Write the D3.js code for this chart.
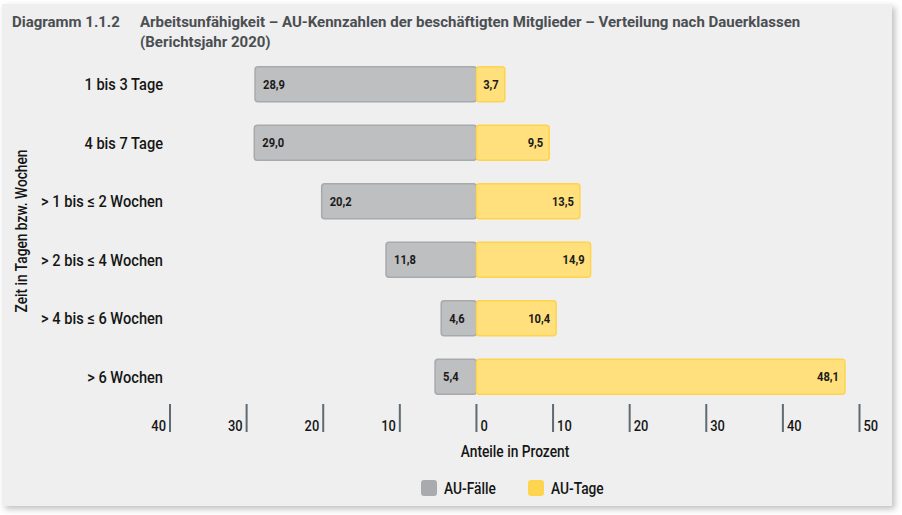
<!DOCTYPE html>
<html>
<head>
<meta charset="utf-8">
<script src="https://cdn.jsdelivr.net/npm/d3@7"></script>
<style>
  body { margin: 0; background: #ffffff; }
  text { font-family: "Roboto", "Liberation Sans", sans-serif; }
</style>
</head>
<body>
<div id="plot"></div>
<script>
// Data
const categories = ["1 bis 3 Tage", "4 bis 7 Tage", "> 1 bis ≤ 2 Wochen", "> 2 bis ≤ 4 Wochen", "> 4 bis ≤ 6 Wochen", "> 6 Wochen"];
const faelle = [28.9, 29.0, 20.2, 11.8, 4.6, 5.4];
const tage = [3.7, 9.5, 13.5, 14.9, 10.4, 48.1];
const leftTicks = [40, 30, 20, 10];
const rightTicks = [0, 10, 20, 30, 40, 50];
const seriesNames = ["AU-Fälle", "AU-Tage"];

const width = 902;
const height = 515;

const svg = d3.select("#plot")
  .append("svg")
  .attr("width", width)
  .attr("height", height);

// shadow + panel
const defs = svg.append("defs");
const f = defs.append("filter").attr("id", "shadow").attr("x", "-5%").attr("y", "-5%").attr("width", "110%").attr("height", "110%");
f.append("feDropShadow").attr("dx", 3).attr("dy", 3).attr("stdDeviation", 3).attr("flood-color", "#000").attr("flood-opacity", 0.25);

svg.append("rect")
  .attr("x", 2).attr("y", 4)
  .attr("width", 890).attr("height", 502)
  .attr("fill", "#eeefee")
  .attr("filter", "url(#shadow)");

// condensed look: squeeze text horizontally
const sx = 0.86;

// title
svg.append("text")
  .attr("x", 12).attr("y", 27)
  .attr("fill", "#4b4e52")
  .style("font-size", "15px").style("font-weight", "bold")
  .text("Diagramm 1.1.2");
const title = svg.append("text")
  .attr("x", 140).attr("y", 27)
  .attr("fill", "#4b4e52")
  .style("font-size", "15px").style("font-weight", "bold");
title.append("tspan").attr("x", 140).text("Arbeitsunfähigkeit – AU-Kennzahlen der beschäftigten Mitglieder – Verteilung nach Dauerklassen");
title.append("tspan").attr("x", 140).attr("dy", 20).text("(Berichtsjahr 2020)");

// scales
const x = d3.scaleLinear().domain([-40, 50]).range([170, 859.5]);
const y = d3.scaleBand().domain(categories).range([55, 406]).paddingInner(0.4).paddingOuter(0.2);

const rows = categories.map((c, i) => ({ cat: c, f: faelle[i], t: tage[i] }));

const fmt = v => v.toFixed(1).replace(".", ",");

// bars
const g = svg.append("g");
g.selectAll("rect.faelle")
  .data(rows).enter().append("rect")
  .attr("class", "faelle")
  .attr("x", d => x(-d.f))
  .attr("y", d => y(d.cat))
  .attr("width", d => x(0) - x(-d.f))
  .attr("height", y.bandwidth())
  .attr("rx", 3)
  .attr("fill", "#bebfc1")
  .attr("stroke", "#a8a9ab")
  .attr("stroke-width", 1.5);

g.selectAll("rect.tage")
  .data(rows).enter().append("rect")
  .attr("class", "tage")
  .attr("x", x(0))
  .attr("y", d => y(d.cat))
  .attr("width", d => x(d.t) - x(0))
  .attr("height", y.bandwidth())
  .attr("rx", 3)
  .attr("fill", "#ffe07c")
  .attr("stroke", "#fdd44c")
  .attr("stroke-width", 1.5);

// value labels
g.selectAll("text.fl")
  .data(rows).enter().append("text")
  .attr("transform", d => `translate(${x(-d.f) + 8}, ${y(d.cat) + y.bandwidth() / 2 + 4.5}) scale(${sx}, 1)`)
  .attr("fill", "#1a1a1a")
  .style("font-size", "13px").style("font-weight", "bold")
  .text(d => fmt(d.f));

g.selectAll("text.tl")
  .data(rows).enter().append("text")
  .attr("transform", d => `translate(${x(d.t) - 6}, ${y(d.cat) + y.bandwidth() / 2 + 4.5}) scale(${sx}, 1)`)
  .attr("text-anchor", "end")
  .attr("fill", "#1a1a1a")
  .style("font-size", "13px").style("font-weight", "bold")
  .text(d => fmt(d.t));

// category labels
g.selectAll("text.cat")
  .data(categories).enter().append("text")
  .attr("transform", d => `translate(163, ${y(d) + y.bandwidth() / 2 + 6}) scale(${sx}, 1)`)
  .attr("text-anchor", "end")
  .attr("fill", "#151515")
  .style("font-size", "17px").style("font-weight", 500)
  .text(d => d);

// y axis title
svg.append("text")
  .attr("transform", `translate(27, ${231}) rotate(-90) scale(${sx}, 1)`)
  .attr("text-anchor", "middle")
  .attr("fill", "#151515")
  .style("font-size", "16px").style("font-weight", 500)
  .text("Zeit in Tagen bzw. Wochen");

// x axis ticks
const ax = svg.append("g");
ax.selectAll("line.lt")
  .data(leftTicks).enter().append("line")
  .attr("x1", d => x(-d)).attr("x2", d => x(-d))
  .attr("y1", 404).attr("y2", 432)
  .attr("stroke", "#5f6a72").attr("stroke-width", 2);
ax.selectAll("text.lt")
  .data(leftTicks).enter().append("text")
  .attr("transform", d => `translate(${x(-d) - 4}, 431) scale(${sx}, 1)`)
  .attr("text-anchor", "end")
  .attr("fill", "#151515")
  .style("font-size", "15px").style("font-weight", 500)
  .text(d => d);

ax.selectAll("line.rt")
  .data(rightTicks).enter().append("line")
  .attr("x1", d => x(d)).attr("x2", d => x(d))
  .attr("y1", 404).attr("y2", 432)
  .attr("stroke", "#5f6a72").attr("stroke-width", 2);
ax.selectAll("text.rt")
  .data(rightTicks).enter().append("text")
  .attr("transform", d => `translate(${x(d) + 4}, 431) scale(${sx}, 1)`)
  .attr("fill", "#151515")
  .style("font-size", "15px").style("font-weight", 500)
  .text(d => d);

svg.append("text")
  .attr("transform", `translate(515, 457) scale(${sx}, 1)`)
  .attr("text-anchor", "middle")
  .attr("fill", "#151515")
  .style("font-size", "16px").style("font-weight", 500)
  .text("Anteile in Prozent");

// legend
const legendColors = ["#a9aaad", "#ffd54f"];
const legendX = [421, 528];
const legend = svg.append("g");
legend.selectAll("rect")
  .data(seriesNames).enter().append("rect")
  .attr("x", (d, i) => legendX[i])
  .attr("y", 480)
  .attr("width", 16).attr("height", 16)
  .attr("rx", 3)
  .attr("fill", (d, i) => legendColors[i]);
legend.selectAll("text")
  .data(seriesNames).enter().append("text")
  .attr("transform", (d, i) => `translate(${legendX[i] + 23}, 494) scale(${sx}, 1)`)
  .attr("fill", "#151515")
  .style("font-size", "16px").style("font-weight", 500)
  .text(d => d);
</script>
</body>
</html>
